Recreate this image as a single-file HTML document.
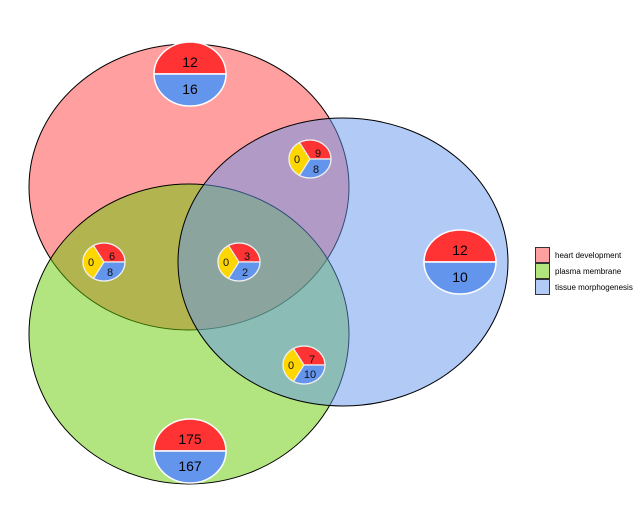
<!DOCTYPE html>
<html><head><meta charset="utf-8"><style>html,body{margin:0;padding:0;background:#fff}svg{display:block}text{font-family:"Liberation Sans",sans-serif}</style></head><body>
<svg width="640" height="512" viewBox="0 0 640 512" xmlns="http://www.w3.org/2000/svg">
<ellipse cx="189" cy="187" rx="160" ry="143" fill="rgb(255,64,64)" fill-opacity="0.5" stroke="#000" stroke-width="1"/>
<ellipse cx="189" cy="334" rx="160" ry="150" fill="rgb(102,204,0)" fill-opacity="0.5" stroke="#000" stroke-width="1"/>
<ellipse cx="343" cy="262" rx="165" ry="144" fill="rgb(100,149,237)" fill-opacity="0.5" stroke="#000" stroke-width="1"/>
<g stroke="#fff" stroke-width="1.5">
<path d="M154,74 A36,32 0 0 1 226,74 Z" fill="#ff3333"/><path d="M154,74 A36,32 0 0 0 226,74 Z" fill="#6495ed"/>
<path d="M424,262 A36,32 0 0 1 496,262 Z" fill="#ff3333"/><path d="M424,262 A36,32 0 0 0 496,262 Z" fill="#6495ed"/>
<path d="M154,451 A36,32 0 0 1 226,451 Z" fill="#ff3333"/><path d="M154,451 A36,32 0 0 0 226,451 Z" fill="#6495ed"/>
</g>
<g font-size="14" text-anchor="middle" fill="#000">
<text x="190" y="67">12</text><text x="190" y="94">16</text>
<text x="460" y="255">12</text><text x="460" y="282">10</text>
<text x="190" y="444">175</text><text x="190" y="471">167</text>
</g>
<defs>
<g id="pie">
<path d="M0,0 L-10.5,-16.5 A21,19 0 0 0 -10.5,16.5 Z" fill="#ffd700"/>
<path d="M0,0 L-10.5,-16.5 A21,19 0 0 1 21,0 Z" fill="#ff3333"/>
<path d="M0,0 L21,0 A21,19 0 0 1 -10.5,16.5 Z" fill="#6495ed"/>
<ellipse cx="0" cy="0" rx="21" ry="19" fill="none"/>
</g>
</defs>
<g stroke="#eee" stroke-width="1.2">
<use href="#pie" transform="translate(104,262)"/>
<use href="#pie" transform="translate(239,262)"/>
<use href="#pie" transform="translate(310,159)"/>
<use href="#pie" transform="translate(304,365)"/>
</g>
<g font-size="11" text-anchor="middle" fill="#111">
<text x="91" y="266">0</text><text x="112" y="260">6</text><text x="110" y="276">8</text>
<text x="226" y="266">0</text><text x="247" y="260">3</text><text x="245" y="276">2</text>
<text x="297" y="163">0</text><text x="318" y="157">9</text><text x="316" y="173">8</text>
<text x="291" y="369">0</text><text x="312" y="363">7</text><text x="310" y="378">10</text>
</g>
<g stroke="#333" stroke-width="1">
<rect x="535.5" y="247.5" width="14" height="15" fill="#ffa0a0"/>
<rect x="535.5" y="263.5" width="14" height="15" fill="#b3e57f"/>
<rect x="535.5" y="279.5" width="14" height="15" fill="#b2caf6"/>
</g>
<g font-size="8" fill="#000">
<text x="555" y="258">heart development</text>
<text x="555" y="274">plasma membrane</text>
<text x="555" y="290">tissue morphogenesis</text>
</g>
</svg>
</body></html>
